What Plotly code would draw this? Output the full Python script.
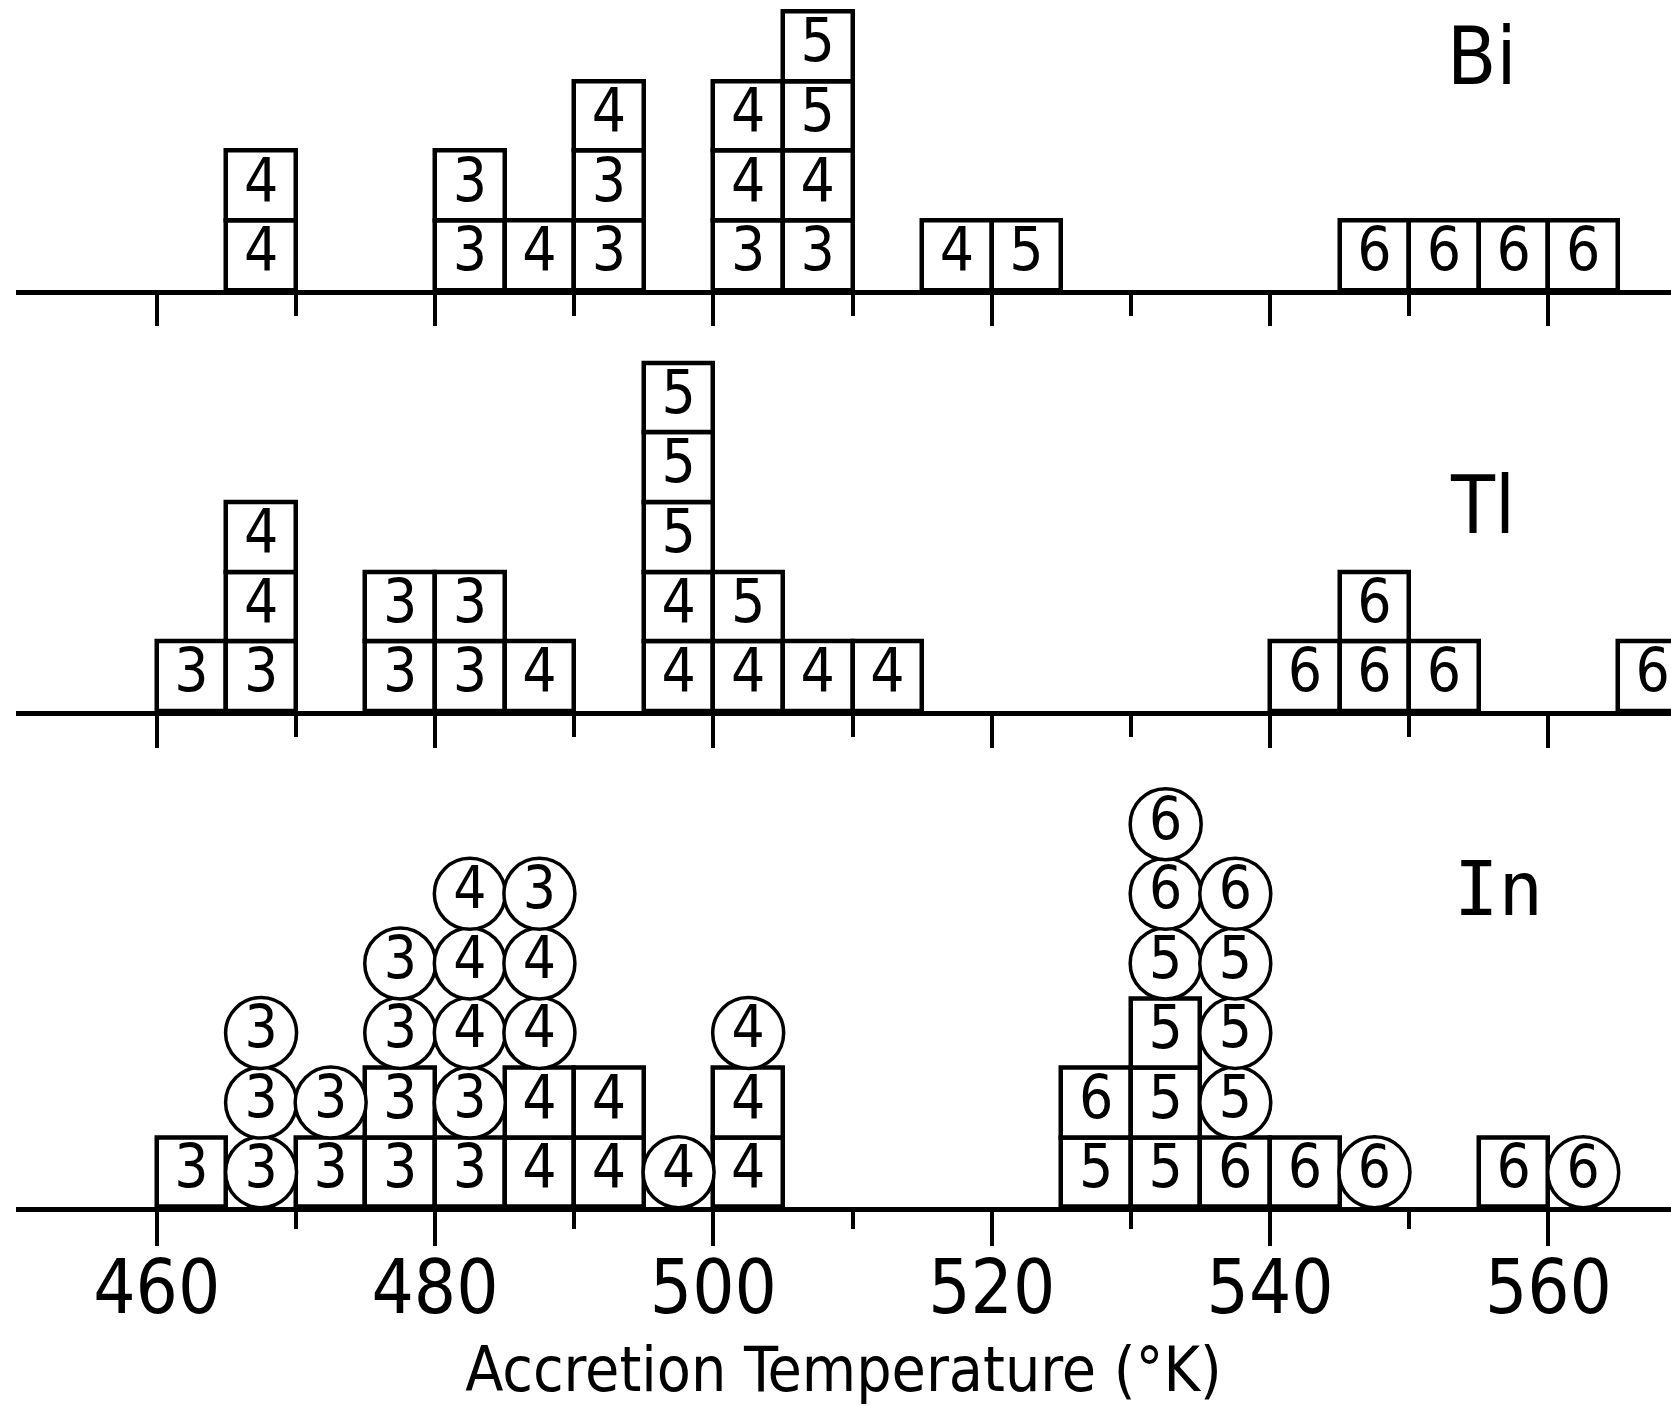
import plotly.graph_objects as go

# ---------------------------------------------------------------------------
# Data: meteorites binned by accretion temperature (5 K bins).
# Each stack string lists the petrologic type of each meteorite, bottom to top.
# ---------------------------------------------------------------------------
BIN_WIDTH = 5

bi_bins = [465, 480, 485, 490, 500, 505, 515, 520, 545, 550, 555, 560]
bi_stacks = ["44", "33", "4", "334", "344", "3455", "4", "5", "6", "6", "6", "6"]

tl_bins = [460, 465, 475, 480, 485, 495, 500, 505, 510, 540, 545, 550, 565]
tl_stacks = ["3", "344", "33", "33", "4", "44555", "45", "4", "4", "6", "66", "6", "6"]

in_bins = [460, 465, 470, 475, 480, 485, 490, 495, 500, 525, 530, 535, 540, 545, 555, 560]
# In: boxed entries sit at the bottom of each column, circled entries on top
in_boxed = ["3", "", "3", "33", "3", "44", "44", "", "44", "56", "555", "6", "6", "", "6", ""]
in_circled = ["", "333", "3", "33", "3444", "443", "", "4", "4", "", "566", "5556", "", "6", "", "6"]

major_ticks = [460, 480, 500, 520, 540, 560]
minor_ticks = [470, 490, 510, 530, 550]
panel_names = ["Bi", "Tl", "In"]
x_title = "Accretion Temperature (°K)"

# ---------------------------------------------------------------------------
W, H = 1671, 1406
FONT = "DejaVu Sans Condensed, Liberation Sans Narrow, Arial Narrow, sans-serif"
MONO = "DejaVu Sans Mono, monospace"
UNIT_PX = 69.6          # height of one box in pixels
PX_PER_K = 13.917
X_LEFT_PX = 16
X0 = 460 - (156.7 - X_LEFT_PX) / PX_PER_K
X1 = X0 + (W - X_LEFT_PX) / PX_PER_K


def cells(bins, stacks, start=None):
    xs, bases, labels = [], [], []
    for i, (b, s) in enumerate(zip(bins, stacks)):
        lvl0 = start[i] if start else 0
        for k, ch in enumerate(s):
            xs.append(b + BIN_WIDTH / 2)
            bases.append(lvl0 + k)
            labels.append(ch)
    return xs, bases, labels


fig = go.Figure()


def add_boxes(xs, bases, labels, xa, ya):
    n = len(xs)
    fig.add_trace(go.Bar(
        x=xs, y=[1] * n, base=bases, width=[BIN_WIDTH] * n,
        marker=dict(color="white", line=dict(color="black", width=4.5)),
        textposition="none", hoverinfo="skip", showlegend=False,
        xaxis=xa, yaxis=ya))
    fig.add_trace(go.Scatter(
        x=xs, y=[b + 0.5 for b in bases], mode="text", text=labels,
        textposition="middle center",
        textfont=dict(family=FONT, size=60, color="black"),
        hoverinfo="skip", showlegend=False, xaxis=xa, yaxis=ya))


def add_circles(xs, bases, labels, xa, ya):
    fig.add_trace(go.Scatter(
        x=xs, y=[b + 0.5 for b in bases], mode="markers+text", text=labels,
        textposition="middle center",
        marker=dict(symbol="circle", size=71, color="white",
                    line=dict(color="black", width=3.5)),
        textfont=dict(family=FONT, size=58, color="black"),
        hoverinfo="skip", showlegend=False, xaxis=xa, yaxis=ya))


# Bi panel (top)
add_boxes(*cells(bi_bins, bi_stacks), "x3", "y3")
# Tl panel (middle)
add_boxes(*cells(tl_bins, tl_stacks), "x2", "y2")
# In panel (bottom): boxes first, circles stacked above them
add_boxes(*cells(in_bins, in_boxed), "x", "y")
add_circles(*cells(in_bins, in_circled, [len(s) for s in in_boxed]), "x", "y")

# panel layout: baseline pixel (from top) and visible stack height
panels = {"y3": (290, 4.16), "y2": (711, 5.6), "y": (1207, 6.6)}


def y_axis(key):
    base_px, ymax = panels[key]
    b = (H - base_px) / H
    return dict(domain=[b, min(1.0, b + ymax * UNIT_PX / H)], range=[0, ymax],
                visible=False, fixedrange=True)


def x_axis(anchor, major_len, minor_len, labels):
    return dict(domain=[X_LEFT_PX / W, 1], range=[X0, X1], anchor=anchor,
                showline=True, linewidth=5, linecolor="black",
                ticks="outside", tickmode="array", tickvals=major_ticks,
                ticktext=[str(v) for v in major_ticks], ticklen=major_len,
                tickwidth=4, tickcolor="black",
                minor=dict(ticks="outside", tickvals=minor_ticks, ticklen=minor_len,
                           tickwidth=4, tickcolor="black"),
                showgrid=False, zeroline=False, fixedrange=True,
                showticklabels=labels)


xa = x_axis("y", 34, 17, True)
xa.update(tickfont=dict(family=FONT, size=74, color="black"),
          ticklabelstandoff=-22,
          title=dict(text=x_title, font=dict(family=FONT, size=62, color="black"),
                     standoff=30))
xa2 = x_axis("y2", 32, 21, False)
xa2["matches"] = "x"
xa3 = x_axis("y3", 31, 21, False)
xa3["matches"] = "x"

label_pos = [("x3", "y3", 555.2, 3.35, FONT, 80),
             ("x2", "y2", 555.3, 2.95, FONT, 80),
             ("x", "y", 556.4, 4.57, MONO, 74)]
annotations = []
for name, (ax_, ay_, lx, ly, fam, sz) in zip(panel_names, label_pos):
    annotations.append(dict(text=name, x=lx, y=ly, xref=ax_, yref=ay_, showarrow=False,
                            xanchor="center", yanchor="middle",
                            font=dict(family=fam, size=sz, color="black")))

fig.update_layout(
    width=W, height=H, margin=dict(l=0, r=0, t=0, b=0),
    paper_bgcolor="white", plot_bgcolor="white",
    barmode="overlay", bargap=0, showlegend=False,
    xaxis=xa, xaxis2=xa2, xaxis3=xa3,
    yaxis=y_axis("y"), yaxis2=y_axis("y2"), yaxis3=y_axis("y3"),
    annotations=annotations,
)

fig.write_html("out.html")
